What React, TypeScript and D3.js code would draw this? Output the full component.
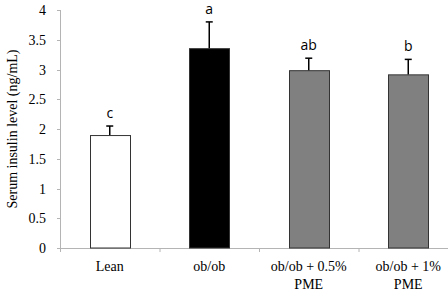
import React from "react";
import * as d3 from "d3";

const categories = ["Lean", "ob/ob", "ob/ob + 0.5% PME", "ob/ob + 1% PME"];
const categoryLines = [["Lean"], ["ob/ob"], ["ob/ob + 0.5%", "PME"], ["ob/ob + 1%", "PME"]];
const means = [1.89, 3.35, 2.98, 2.91];
const errors = [0.16, 0.45, 0.21, 0.26];
const letters = ["c", "a", "ab", "b"];
const fills = ["#ffffff", "#000000", "#808080", "#808080"];
const yTicks = [0, 0.5, 1, 1.5, 2, 2.5, 3, 3.5, 4];

const W = 448;
const H = 290;
const left = 60;
const right = 458;
const top = 10;
const bottom = 248;

export default function App() {
  const x = d3.scaleBand<string>().domain(categories).range([left, right]).paddingInner(0).paddingOuter(0);
  const y = d3.scaleLinear().domain([0, 4]).range([bottom, top]);
  const bw = 40;
  const serif = "'Liberation Serif', 'Times New Roman', serif";
  const sans = "'Open Sans', sans-serif";
  const axisColor = "#b4b4b4";
  const boundaries = categories.map((c) => x(c)!).concat([right]);

  return (
    <svg width={W} height={H} style={{ position: "absolute", left: 0, top: 0, background: "#fff" }}>
      <rect x={0} y={0} width={W} height={H} fill="#fff" />
      {/* y axis */}
      <line x1={left + 0.5} x2={left + 0.5} y1={top} y2={bottom + 4} stroke={axisColor} strokeWidth={1} />
      {yTicks.map((t) => (
        <g key={t}>
          <line x1={left - 3} x2={left} y1={Math.round(y(t)) + 0.5} y2={Math.round(y(t)) + 0.5} stroke={axisColor} />
          <text x={left - 14} y={y(t) + 5} textAnchor="end" fontFamily={serif} fontSize={14} fill="#000">
            {t}
          </text>
        </g>
      ))}
      <text
        transform={`translate(17,${(top + bottom) / 2}) rotate(-90)`}
        textAnchor="middle"
        fontFamily={serif}
        fontSize={14}
        fill="#000"
      >
        Serum insulin level (ng/mL)
      </text>
      {/* x axis */}
      <line x1={left} x2={W} y1={bottom + 0.5} y2={bottom + 0.5} stroke={axisColor} />
      {boundaries.map((b, i) => (
        <line key={i} x1={b + 0.5} x2={b + 0.5} y1={bottom} y2={bottom + 4} stroke={axisColor} />
      ))}
      {/* bars */}
      {categories.map((c, i) => {
        const cx = x(c)! + x.bandwidth() / 2;
        const yt = y(means[i]);
        const ye = y(means[i] + errors[i]);
        return (
          <g key={c}>
            <line x1={cx} x2={cx} y1={ye} y2={yt} stroke="#000" strokeWidth={1.5} />
            <line x1={cx - 3.5} x2={cx + 3.5} y1={ye} y2={ye} stroke="#000" strokeWidth={1.5} />
            <rect
              x={Math.round(cx - bw / 2) + 0.5}
              y={yt}
              width={bw}
              height={bottom - yt}
              fill={fills[i]}
              stroke="#333"
              strokeWidth={1}
            />
            <text x={cx} y={ye - 8} textAnchor="middle" fontFamily={sans} fontSize={14} fill="#000">
              {letters[i]}
            </text>
            {categoryLines[i].map((ln, j) => (
              <text
                key={j}
                x={cx}
                y={271 + j * 17.5}
                textAnchor="middle"
                fontFamily={serif}
                fontSize={14}
                fill="#000"
              >
                {ln}
              </text>
            ))}
          </g>
        );
      })}
    </svg>
  );
}
